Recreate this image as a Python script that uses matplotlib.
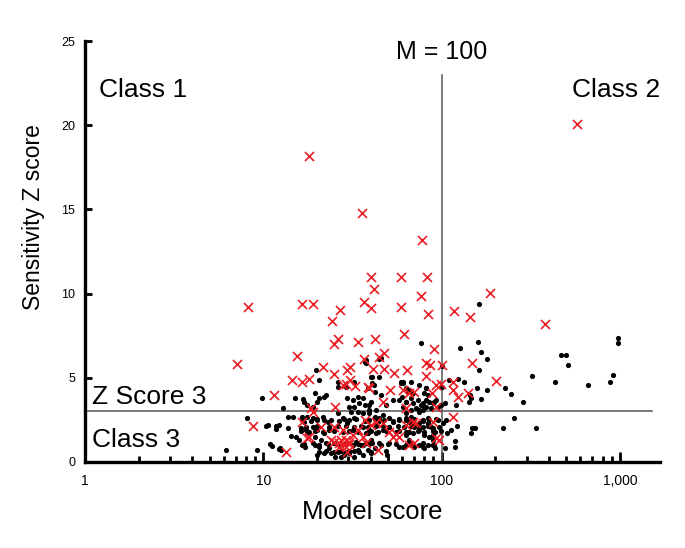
import matplotlib
matplotlib.use("Agg")
import matplotlib.pyplot as plt
from matplotlib.ticker import FixedLocator, FixedFormatter, LogLocator, NullFormatter

plt.rcParams['font.family'] = ['Liberation Sans', 'DejaVu Sans']

# Red crosses (Model score, Sensitivity Z score)
red_x = [573, 18, 35.8, 78.2, 40.4, 58.9, 82.4, 41.9, 186, 76.9, 8.2, 16.6, 19.0, 26.8, 36.8, 40.4,
         58.9, 84.5, 118, 144, 24.3, 380, 61.4, 26.3, 25.0, 34.0, 42.2, 90.5, 7.1, 15.4, 36.6, 44.4,
         47.6, 21.7, 24.8, 29.4, 30.8, 41.1, 47.4, 54.0, 64.2, 82.0, 86.4, 100, 148, 82, 203, 14.5,
         16.6, 18.1, 11.5, 8.71, 28.1, 29.1, 30.8, 32.7, 38.5, 51.5, 66.1, 93.4, 88.0, 98.7, 116, 116,
         123.6, 140.5, 60.6, 70.5, 39.4, 25.4, 18.9, 16.6, 93.4, 63.3, 116, 46.8, 18.0, 13.4, 24.0,
         26.6, 29.1, 30.4, 25.0, 27.9, 31.7, 37.8, 43.9, 51.0, 55.5, 58.1, 53.4, 70.5, 89.4, 93.4,
         69, 97, 66, 72.2, 21.1, 25, 27.4, 28.5, 30.4, 26.6, 29.6, 33.9, 36.2, 37, 40.3, 42.9, 46.8,
         63.3, 18.6, 17.7]
red_y = [20.05, 18.2, 14.77, 13.17, 10.97, 10.97, 10.97, 10.26, 10.05, 9.88, 9.2, 9.36, 9.36, 9.03,
         9.52, 9.14, 9.2, 8.77, 8.95, 8.63, 8.37, 8.2, 7.6, 7.32, 7.0, 7.14, 7.3, 6.73, 5.82, 6.3,
         6.12, 6.24, 6.49, 5.62, 5.24, 5.46, 5.62, 5.54, 5.5, 5.28, 5.44, 5.86, 5.76, 5.74, 5.86, 5.11,
         4.83, 4.87, 4.77, 4.93, 3.98, 2.16, 4.55, 4.63, 4.87, 4.51, 4.43, 4.28, 4.08, 4.57, 4.08,
         4.61, 4.77, 4.28, 3.88, 4.08, 4.28, 4.18, 4.38, 3.28, 2.99, 2.39, 3.28, 3.19, 2.69, 3.58,
         1.5, 0.61, 1.31, 1.11, 1.31, 1.07, 2.1, 1.9, 1.6, 1.11, 0.71, 1.8, 1.66, 1.5, 1.5, 1.11,
         2.39, 1.41, 2.39, 1.31, 1.0, 2.29, 2.1, 1.2, 1.31, 1.0, 1.2, 0.91, 0.61, 1.9, 1.5, 2.49, 2.2,
         2.39, 2.29, 2.2, 3.19, 1.41]

# Black dots (Model score, Sensitivity Z score)
black_x = [163, 76.4, 127, 160, 167, 180, 163, 180, 159, 167, 145, 147, 143, 228, 246, 286, 323, 435,
           470, 497, 510, 667, 883, 910, 971, 975, 255, 222, 340, 146, 149, 155, 110, 124, 134, 101,
           120, 122, 113, 108, 119, 119, 104, 99, 97, 92, 91, 92, 100,
           63.3, 67.6, 75.2, 78.4, 82, 72.2, 66.1, 70.5, 75.2, 78.4, 83.9, 87.5, 89.4, 63.3, 66.1,
           58.1, 70.5, 78.4, 83.9, 89.4, 75.2, 82, 80, 60, 65, 63.3, 69, 76.4, 82, 89.4, 93.4, 59.6,
           67.6, 83.9,
           9.8, 15, 16.8, 12.9, 8.1, 10.4, 10.6, 11.8, 12.3, 13.7, 14.6, 13.8, 15.3, 14.3, 15.9, 16.6,
           17.2, 16.6, 17, 16.2, 17.4, 6.17, 9.2, 11.2, 12.2, 12.6, 11.8, 10.9, 12.4,
           19.7, 20.6, 26.1, 26.1, 29.1, 37, 37.8, 38.5, 19.4, 20.6, 22, 22.4, 17, 17.7, 18.9, 20.1,
           29.6, 31.7, 33.9, 36.2, 34.6, 32.4, 30.4, 37, 40.3, 31.1, 33.9, 36.2, 39.4, 32.4,
           17.7, 18.9, 20.1, 21.5, 23, 18.9, 20.1, 22, 23.5, 17.7, 19.4, 21.1, 22.4, 23.5, 20.6, 19.4,
           24, 22, 20.1, 25.4, 27.4, 28.5, 30.4, 32.4, 33.9, 35.5, 33.1, 37.8, 38.5, 40.3, 36.2, 40.3,
           38.5, 36.2, 29.6, 31.7, 27.9, 26.1,
           41, 45.7, 60.6, 66.1, 69, 41, 42.2, 45.7, 53.4, 48.8, 39.4, 42.9, 46.8, 60.6, 67.6, 75.2,
           80, 85.6, 39.4, 42.2, 44.8, 51, 53.4, 58.1, 63.3, 67.6, 72.2, 78.4, 83.9, 89.4, 95.4, 102,
           39.4, 42.9, 46.8, 51, 63.3, 69, 75.2, 80, 85.6, 41, 45.7, 51, 60.6, 66.1, 75.2, 80, 89.4,
           42.2, 49.6,
           37.8, 44.8, 59.6, 44.8, 40.3, 32.4,
           41.6, 60.6, 63.3, 58.1, 63.3, 67.6, 73.6, 78.4, 82, 80, 87.5, 91.3, 95.4, 104,
           16.6, 18.6, 20.1, 22, 24, 26.7, 28.5, 30.4, 33, 37, 39.4, 42.2, 44.8, 47.8, 53.4, 58.1,
           63.3, 70.5, 78.4, 85.6, 93.4, 106,
           16.2, 18.1, 19.4, 21.5, 25, 27.9, 30.4, 33.9, 37.8, 40.3, 43.8, 48.8, 55.4, 58.1, 66.1,
           73.6, 80, 89.4, 99,
           17, 18.9, 20.6, 23, 25, 26.7, 28.5, 29.6, 31.7, 33.9, 36.2, 39.4, 44.8, 50.1, 55.5, 63.3,
           69, 78.4, 89.4,
           20.6, 22.4, 25, 26.1, 27.4, 29.1, 30.4, 32.4, 34.6, 40.3, 48.8,
           17.3, 20.1, 23.5, 26.1, 29.1, 32.4, 35.5, 38.5, 42.9, 46.8, 51, 57.1, 61.7, 67.6, 75.2, 83.9]
black_y = [9.38, 7.08, 6.75, 7.14, 6.53, 6.13, 5.46, 4.28, 4.38, 3.74, 3.98, 3.78, 3.55, 4.41, 4.02,
           3.58, 5.11, 4.77, 6.35, 6.35, 5.78, 4.55, 4.77, 5.18, 7.35, 7.08, 2.59, 2.0, 2.0, 1.74, 2.04,
           2.0, 4.87, 4.91, 4.73, 4.47, 3.38, 2.16, 1.9, 1.7, 1.26, 0.91, 0.81, 3.38, 2.1, 1.8, 1.0,
           0.81, 5.7,
           2.89, 2.69, 2.99, 3.09, 3.28, 3.22, 2.39, 2.1, 2.29, 2.1, 2.59, 2.1, 1.6, 1.6, 1.31, 0.91,
           0.91, 0.91, 1.0, 1.31, 4.57, 4.38, 4.08, 3.88, 4.18, 3.58, 3.48, 3.38, 3.68, 3.48, 3.68,
           4.77, 4.77, 3.98,
           3.82, 3.82, 3.72, 3.22, 2.63, 2.16, 2.2, 1.94, 2.2, 2.65, 2.69, 2.0, 1.5, 1.54, 1.31, 1.01,
           0.87, 2.65, 2.39, 2.04, 1.9, 0.71, 0.71, 0.95, 0.75, 0.71, 2.16, 1.05, 0.81,
           5.46, 4.87, 4.77, 4.47, 4.47, 5.96, 5.86, 4.38, 4.08, 3.78, 3.88, 3.98, 3.58, 3.38, 3.28,
           3.58, 3.78, 3.68, 3.88, 3.78, 3.48, 3.28, 3.28, 3.38, 3.58, 2.99, 2.99, 2.89, 3.09, 2.59,
           2.69, 2.59, 2.49, 2.69, 2.39, 2.1, 1.9, 1.7, 1.9, 1.7, 1.5, 1.31, 1.11, 0.81, 0.91, 1.01,
           0.52, 0.52, 0.42, 0.31, 0.31, 0.42, 0.52, 0.31, 0.71, 1.01, 1.2, 1.11, 0.71, 0.52, 0.42,
           1.31, 1.7, 2.1, 2.29, 1.9, 2.59, 2.89,
           5.07, 6.16, 4.77, 4.28, 4.08, 4.67, 4.18, 3.98, 3.68, 3.38, 3.38, 3.09, 2.79, 3.28, 3.09,
           3.09, 3.28, 3.58, 2.89, 2.69, 2.59, 2.59, 2.39, 2.49, 2.59, 2.29, 2.2, 2.49, 2.29, 2.0,
           2.49, 2.29, 1.9, 1.7, 1.9, 2.1, 1.8, 1.7, 1.9, 1.6, 1.5, 1.11, 1.01, 1.11, 0.91, 1.2, 1.01,
           0.81, 1.01, 0.81, 0.42,
           6.06, 6.14, 4.71, 5.03, 5.03, 4.77,
           4.57, 4.67, 4.38, 3.68, 3.58, 3.78, 3.68, 3.48, 4.38, 3.28, 3.19, 3.58, 3.28, 3.48,
           2.52, 2.45, 2.55, 2.47, 2.52, 2.44, 2.56, 2.48, 2.53, 2.45, 2.51, 2.57, 2.46, 2.52, 2.44,
           2.55, 2.49, 2.53, 2.45, 2.5, 2.54, 2.47,
           1.82, 1.76, 1.85, 1.79, 1.83, 1.77, 1.86, 1.8, 1.75, 1.84, 1.78, 1.82, 1.77, 1.85, 1.79,
           1.83, 1.76, 1.81, 1.84,
           1.05, 1.1, 1.02, 1.08, 1.12, 1.0, 1.06, 1.1, 1.03, 1.09, 1.01, 1.07, 1.11, 1.04, 1.08, 1.02,
           1.06, 1.1, 1.03,
           0.6, 0.65, 0.57, 0.62, 0.68, 0.59, 0.63, 0.66, 0.58, 0.61, 0.64,
           2.1, 2.14, 2.07, 2.12, 2.16, 2.09, 2.13, 2.06, 2.11, 2.15, 2.08, 2.12, 2.1, 2.14, 2.07, 2.11]

x_ticks = [1, 10, 100, 1000]
x_tick_labels = ["1", "10", "100", "1,000"]
y_ticks = [0, 5, 10, 15, 20, 25]
y_tick_labels = ["0", "5", "10", "15", "20", "25"]

M_threshold = 100
Z_threshold = 3

fig = plt.figure(figsize=(6.85, 5.48), dpi=100)
ax = fig.add_axes([0.124, 0.157, 0.8395, 0.768])
ax.set_xscale('log')
ax.set_xlim(1, 1680)
ax.set_ylim(0, 25)

ax.scatter(black_x, black_y, s=14, c='black', linewidths=0, zorder=3)
ax.scatter(red_x, red_y, s=42, marker='x', c='#ec1c24', linewidths=1.2, zorder=4)

ax.plot([M_threshold, M_threshold], [0, 23.0], color='#555555', lw=1.1, zorder=2)
ax.plot([1, 1515], [Z_threshold, Z_threshold], color='#555555', lw=1.1, zorder=2)

for s in ['top', 'right']:
    ax.spines[s].set_visible(False)
for s in ['left', 'bottom']:
    ax.spines[s].set_linewidth(2.4)

ax.xaxis.set_major_locator(FixedLocator(x_ticks))
ax.xaxis.set_major_formatter(FixedFormatter(x_tick_labels))
ax.xaxis.set_minor_locator(LogLocator(base=10, subs=range(2, 10)))
ax.xaxis.set_minor_formatter(NullFormatter())
ax.yaxis.set_major_locator(FixedLocator(y_ticks))
ax.yaxis.set_major_formatter(FixedFormatter(y_tick_labels))
ax.tick_params(axis='x', which='major', direction='in', length=7, width=2, labelsize=10, pad=9)
ax.tick_params(axis='x', which='minor', direction='in', length=4, width=2)
ax.tick_params(axis='y', which='major', direction='in', length=5, width=2, labelsize=9, pad=7)

ax.set_xlabel("Model score", fontsize=18.5, labelpad=8)
ax.set_ylabel("Sensitivity Z score", fontsize=16.5)
ax.yaxis.set_label_coords(-0.07, 0.582)

ax.text(M_threshold, 24.35, "M = 100", fontsize=18, ha='center', va='center')
ax.text(1.2, 22.1, "Class 1", fontsize=19, ha='left', va='center')
ax.text(1680, 22.1, "Class 2", fontsize=19, ha='right', va='center')
ax.text(1.1, 3.85, "Z Score 3", fontsize=19, ha='left', va='center')
ax.text(1.1, 1.3, "Class 3", fontsize=19, ha='left', va='center')

fig.savefig("out.png", dpi=100)
